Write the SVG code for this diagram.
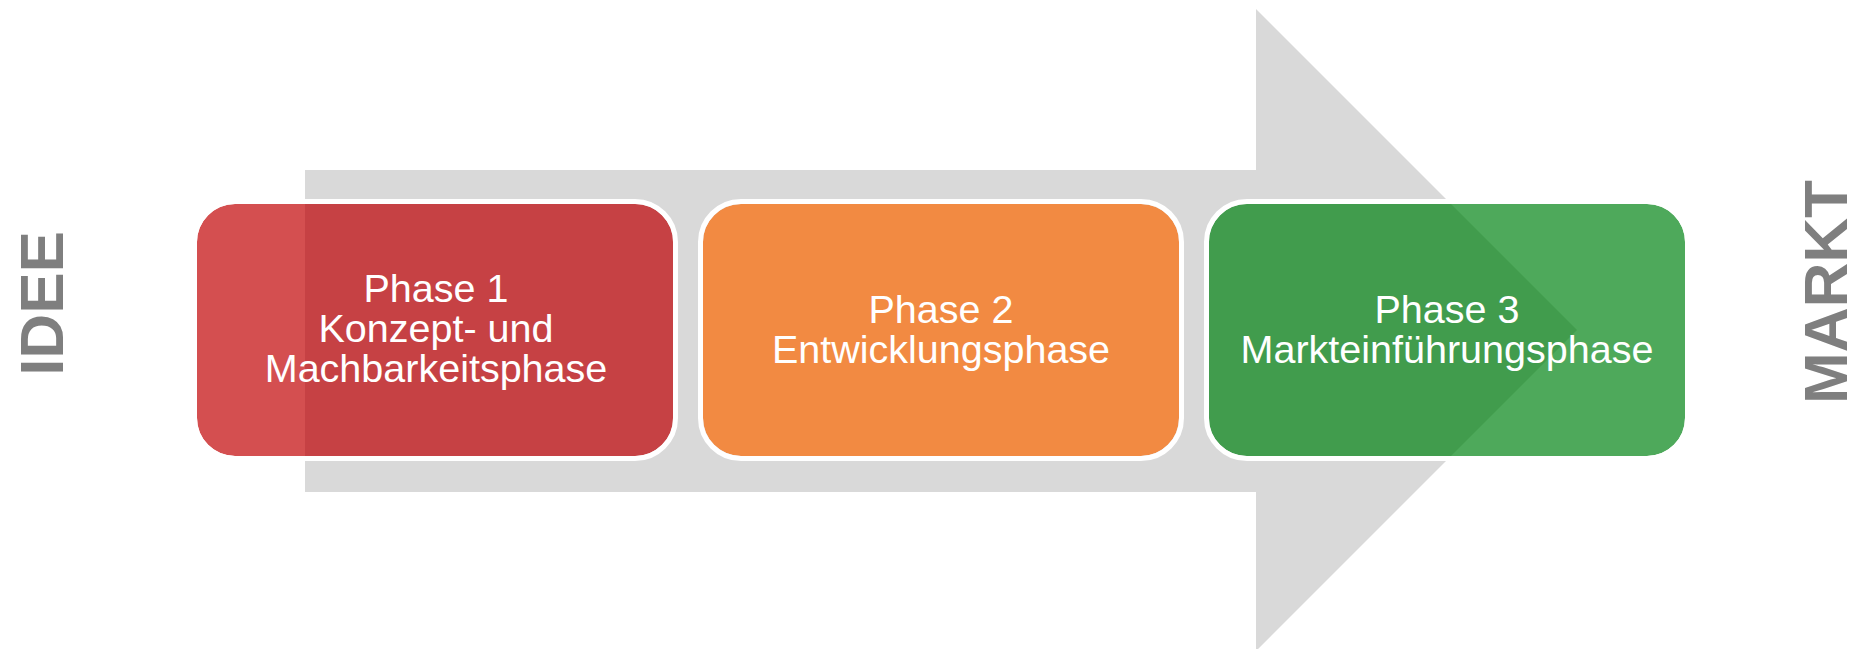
<svg xmlns="http://www.w3.org/2000/svg" width="1863" height="649" viewBox="0 0 1863 649">
  <style>
    .lbl { font-family: "Liberation Sans", Arial, sans-serif; font-size: 39.5px; fill: #FFFFFF; text-anchor: middle; }
    .side { font-family: "Liberation Sans", Arial, sans-serif; font-size: 62px; font-weight: bold; fill: #7F7F7F; text-anchor: middle; }
    .ring { fill: none; stroke: #FFFFFF; stroke-width: 5; }
  </style>
  <defs>
    <clipPath id="arrowClip">
      <polygon points="305,170 1256,170 1256,9 1577,330 1256,651 1256,492 305,492"/>
    </clipPath>
  </defs>
  <rect x="0" y="0" width="1863" height="649" fill="#FFFFFF"/>

  <g id="connectors">
    <polygon id="arrow" points="305,170 1256,170 1256,9 1577,330 1256,651 1256,492 305,492" fill="#D9D9D9"/>
  </g>

  <g id="phase1">
    <rect x="197" y="204" width="476" height="252" rx="38" fill="#D44F50"/>
    <rect x="197" y="204" width="476" height="252" rx="38" fill="#C64144" clip-path="url(#arrowClip)"/>
    <rect class="ring" x="194.5" y="201.5" width="481" height="257" rx="40.5"/>
    <text class="lbl" x="436" y="302">Phase 1</text>
    <text class="lbl" x="436" y="342">Konzept- und</text>
    <text class="lbl" x="436" y="382">Machbarkeitsphase</text>
  </g>

  <g id="phase2">
    <rect x="703" y="204" width="476" height="252" rx="38" fill="#F28A42"/>
    <rect class="ring" x="700.5" y="201.5" width="481" height="257" rx="40.5"/>
    <text class="lbl" x="941" y="323">Phase 2</text>
    <text class="lbl" x="941" y="363">Entwicklungsphase</text>
  </g>

  <g id="phase3">
    <rect x="1209" y="204" width="476" height="252" rx="38" fill="#4EA95B"/>
    <rect x="1209" y="204" width="476" height="252" rx="38" fill="#419C4D" clip-path="url(#arrowClip)"/>
    <rect class="ring" x="1206.5" y="201.5" width="481" height="257" rx="40.5"/>
    <text class="lbl" x="1447" y="323">Phase 3</text>
    <text class="lbl" x="1447" y="363">Markteinführungsphase</text>
  </g>

  <g id="idee">
    <text class="side" transform="translate(63,303.5) rotate(-90)">IDEE</text>
  </g>
  <g id="markt">
    <text class="side" transform="translate(1847,292) rotate(-90)">MARKT</text>
  </g>
</svg>
